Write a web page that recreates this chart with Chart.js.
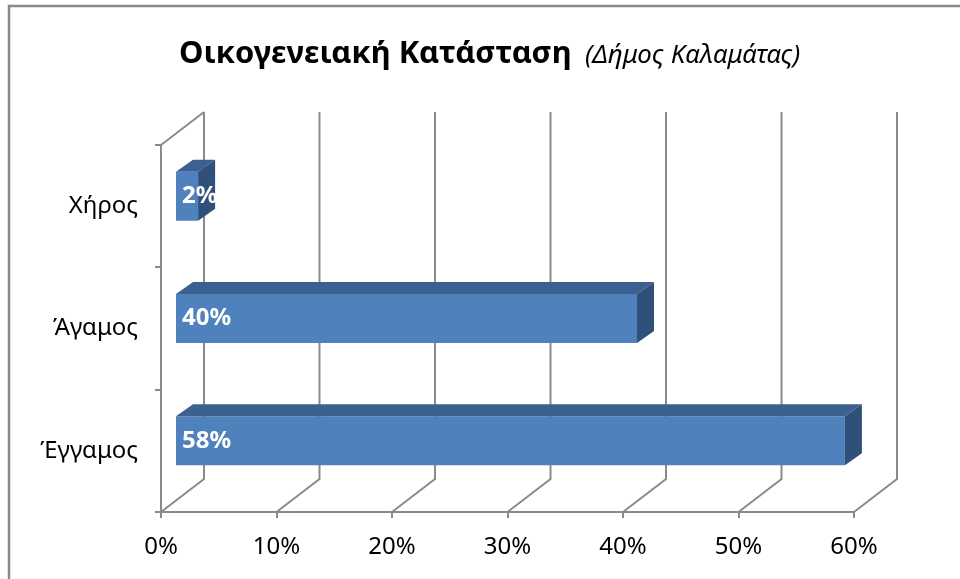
<!DOCTYPE html>
<html>
<head>
<meta charset="utf-8">
<script src="https://cdn.jsdelivr.net/npm/chart.js@4/dist/chart.umd.min.js"></script>
<style>
  html, body { margin: 0; padding: 0; background: #ffffff; }
  #c { display: block; }
</style>
</head>
<body>
<canvas id="c" width="960" height="579"></canvas>
<script>
// ---- data ----
const categories = ['Χήρος', 'Άγαμος', 'Έγγαμος'];
const values = [2, 40, 58];
const xTickValues = [0, 10, 20, 30, 40, 50, 60];
const titleMain = 'Οικογενειακή Κατάσταση';
const titleSub = '(Δήμος Καλαμάτας)';

// ---- style ----
const FONT = '"Noto Sans", "Open Sans", sans-serif';
const GRID = '#8a8a8a';
const FRONT = '#4f81bd';
const TOP = '#3c6090';
const SIDE = '#2f5079';
const WALL_DX = 43, WALL_DY = -33;   // depth of the 3D box
const BAR_DX = 14, BAR_DY = -10;     // front face of bars inside the box
const BAR_DEPTH_X = 17, BAR_DEPTH_Y = -12;

const threeD = {
  id: 'threeD',
  beforeDraw(chart) {
    const ctx = chart.ctx;
    ctx.save();
    ctx.strokeStyle = '#898989';
    ctx.lineWidth = 2.5;
    ctx.beginPath();
    ctx.moveTo(9, 579);
    ctx.lineTo(9, 6);
    ctx.lineTo(960, 6);
    ctx.stroke();
    ctx.restore();
  },
  beforeDatasetsDraw(chart) {
    const ctx = chart.ctx;
    const xs = chart.scales.x;
    const a = chart.chartArea;
    ctx.save();
    ctx.strokeStyle = GRID;
    ctx.lineWidth = 2;
    ctx.lineJoin = 'miter';
    xTickValues.forEach(v => {
      const xf = xs.getPixelForValue(v);
      ctx.beginPath();
      ctx.moveTo(xf, a.bottom);
      ctx.lineTo(xf + WALL_DX, a.bottom + WALL_DY);
      ctx.lineTo(xf + WALL_DX, a.top + WALL_DY);
      ctx.stroke();
    });
    const x0 = xs.getPixelForValue(0);
    ctx.beginPath();
    ctx.moveTo(x0, a.top);
    ctx.lineTo(x0 + WALL_DX, a.top + WALL_DY);
    ctx.stroke();
    ctx.restore();
    ctx.save();
    ctx.translate(BAR_DX, BAR_DY);
  },
  afterDatasetsDraw(chart) {
    const ctx = chart.ctx;
    const meta = chart.getDatasetMeta(0);
    meta.data.forEach((bar, i) => {
      const p = bar.getProps(['x', 'y', 'base', 'height'], true);
      const top = p.y - p.height / 2, bot = p.y + p.height / 2;
      const l = p.base, r = p.x;
      // top face
      ctx.fillStyle = TOP;
      ctx.beginPath();
      ctx.moveTo(l, top);
      ctx.lineTo(r, top);
      ctx.lineTo(r + BAR_DEPTH_X, top + BAR_DEPTH_Y);
      ctx.lineTo(l + BAR_DEPTH_X, top + BAR_DEPTH_Y);
      ctx.closePath();
      ctx.fill();
      // side face
      ctx.fillStyle = SIDE;
      ctx.beginPath();
      ctx.moveTo(r, top);
      ctx.lineTo(r + BAR_DEPTH_X, top + BAR_DEPTH_Y);
      ctx.lineTo(r + BAR_DEPTH_X, bot + BAR_DEPTH_Y);
      ctx.lineTo(r, bot);
      ctx.closePath();
      ctx.fill();
    });
    // data labels
    ctx.fillStyle = '#ffffff';
    ctx.font = 'bold 24px ' + FONT;
    ctx.textAlign = 'left';
    ctx.textBaseline = 'middle';
    meta.data.forEach((bar, i) => {
      const p = bar.getProps(['x', 'y', 'base'], true);
      ctx.fillText(values[i] + '%', p.base + 6, p.y);
    });
    ctx.restore();
  },
  afterDraw(chart) {
    const ctx = chart.ctx;
    ctx.save();
    ctx.fillStyle = '#000000';
    ctx.textBaseline = 'alphabetic';
    ctx.textAlign = 'left';
    ctx.font = 'bold 30px ' + FONT;
    let w = ctx.measureText(titleMain).width;
    const s1 = 30 * 393 / w;
    ctx.font = 'bold ' + s1.toFixed(1) + 'px ' + FONT;
    ctx.fillText(titleMain, 179, 63);
    ctx.font = 'italic 20px ' + FONT;
    w = ctx.measureText(titleSub).width;
    const s2 = 20 * 215 / w;
    ctx.font = 'italic ' + s2.toFixed(1) + 'px ' + FONT;
    ctx.fillText(titleSub, 585, 63);
    ctx.restore();
  }
};

new Chart(document.getElementById('c'), {
  type: 'bar',
  data: {
    labels: categories,
    datasets: [{
      data: values,
      backgroundColor: FRONT,
      borderWidth: 0,
      barPercentage: 0.4,
      categoryPercentage: 1.0
    }]
  },
  options: {
    indexAxis: 'y',
    responsive: false,
    animation: false,
    devicePixelRatio: 1,
    layout: { padding: { top: 145, right: 106, left: 0, bottom: 0 } },
    plugins: { legend: { display: false }, title: { display: false }, tooltip: { enabled: false } },
    scales: {
      x: {
        min: 0, max: 60,
        afterBuildTicks: s => { s.ticks = xTickValues.map(v => ({ value: v })); },
        ticks: { callback: v => v + '%', color: '#000000', font: { family: FONT, size: 24 }, padding: 15, maxRotation: 0 },
        grid: { drawOnChartArea: false, tickLength: 6, color: GRID, lineWidth: 2 },
        border: { display: true, color: GRID, width: 2 },
        afterFit: s => { s.height = 67; }
      },
      y: {
        ticks: { color: '#000000', font: { family: FONT, size: 24 }, padding: 17 },
        grid: { drawOnChartArea: false, tickLength: 6, color: GRID, lineWidth: 2, offset: true },
        border: { display: true, color: GRID, width: 2 },
        afterFit: s => { s.width = 161; }
      }
    }
  },
  plugins: [threeD]
});
</script>
</body>
</html>
